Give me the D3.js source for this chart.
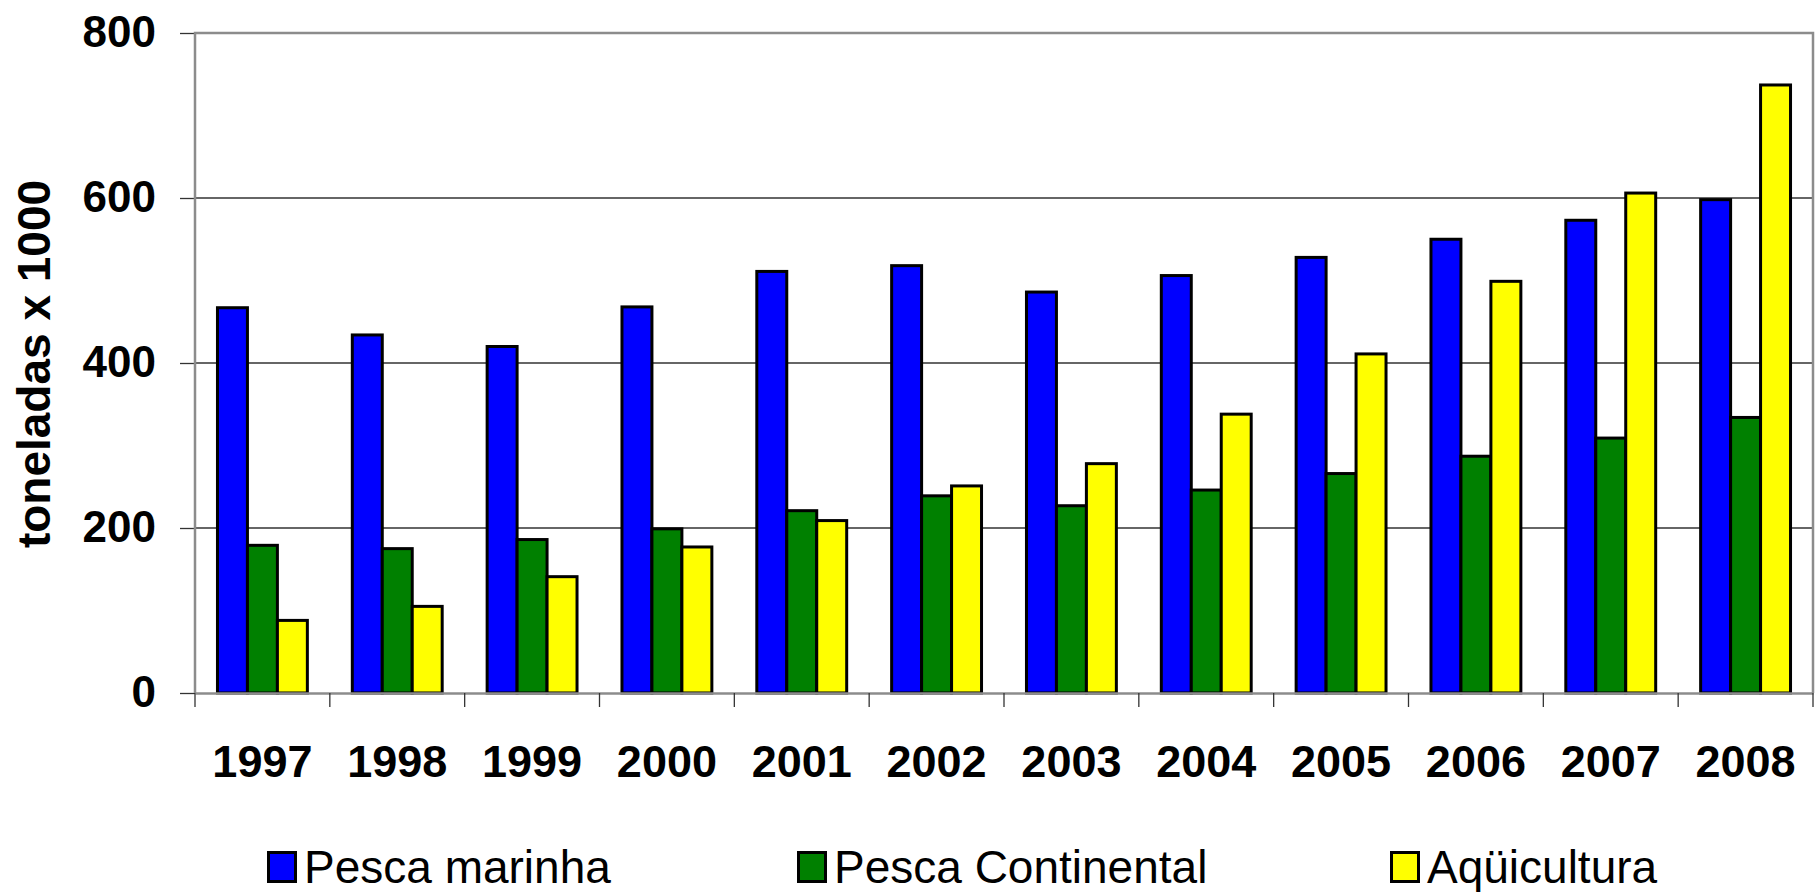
<!DOCTYPE html>
<html lang="pt">
<head>
    <meta charset="UTF-8">
    <title>Produção de pescado</title>
    <script src="https://d3js.org/d3.v7.min.js"></script>
    <style>
        body { margin: 0; background: #fff; }
        svg { display: block; font-family: "Liberation Sans", Arial, sans-serif; }
    </style>
</head>
<body>
    <script>
        // dados (toneladas x 1000)
        const anos = ['1997', '1998', '1999', '2000', '2001', '2002', '2003', '2004', '2005', '2006', '2007', '2008'];
        const pescaMarinha = [467, 434, 420, 468, 511, 518, 486, 506, 528, 550, 573, 598];
        const pescaContinental = [179, 175, 186, 199, 221, 239, 227, 246, 266, 287, 309, 334];
        const aquicultura = [88, 105, 141, 177, 209, 251, 278, 338, 411, 499, 606, 737];
        const series = ['Pesca marinha', 'Pesca Continental', 'Aqüicultura'];
        const cores = ['#0000ff', '#008000', '#ffff00'];
        const ticksY = [0, 200, 400, 600, 800];

        const valores = [pescaMarinha, pescaContinental, aquicultura];

        const W = 1818, H = 892;
        const mEsq = 195, mDir = 1813, mTopo = 33, mBase = 693;

        const svg = d3.select('body').append('svg').attr('width', W).attr('height', H);

        const x0 = d3.scaleBand().domain(anos).range([mEsq, mDir]);
        const x1 = d3.scaleBand().domain(series).range([0, x0.bandwidth()]).paddingInner(0).paddingOuter(0.75);
        const y = d3.scaleLinear().domain([0, 800]).range([mBase, mTopo]);

        // linhas de grade
        svg.append('g')
            .selectAll('line')
            .data(ticksY.filter(d => d > 0 && d < 800))
            .join('line')
            .attr('x1', mEsq).attr('x2', mDir)
            .attr('y1', d => y(d)).attr('y2', d => y(d))
            .attr('stroke', '#333').attr('stroke-width', 1.3);

        // eixo y
        const eixoY = svg.append('g')
            .attr('transform', `translate(${mEsq},0)`)
            .call(d3.axisLeft(y).tickValues(ticksY).tickSize(15).tickPadding(24));
        eixoY.select('.domain').remove();
        eixoY.selectAll('line').attr('stroke', '#333').attr('stroke-width', 1.3);
        eixoY.selectAll('text')
            .attr('font-size', 44).attr('font-weight', 'bold').attr('fill', '#000')
            .attr('font-family', '"Liberation Sans", Arial, sans-serif')
            .attr('dy', '0.3em');

        // barras
        const grupos = svg.append('g')
            .selectAll('g')
            .data(anos)
            .join('g')
            .attr('transform', d => `translate(${x0(d)},0)`);

        grupos.selectAll('rect')
            .data((d, i) => series.map((s, j) => ({ serie: s, valor: valores[j][i], cor: cores[j] })))
            .join('rect')
            .attr('x', d => x1(d.serie))
            .attr('width', x1.bandwidth())
            .attr('y', d => y(d.valor))
            .attr('height', d => y(0) - y(d.valor))
            .attr('fill', d => d.cor)
            .attr('stroke', '#000')
            .attr('stroke-width', 3);

        // moldura cinza (topo, direita, esquerda)
        svg.append('path')
            .attr('d', `M${mEsq},${mBase}V${mTopo}H${mDir}V${mBase}`)
            .attr('fill', 'none').attr('stroke', '#8c8c8c').attr('stroke-width', 2.5);

        // eixo x
        const eixoX = svg.append('g')
            .attr('transform', `translate(0,${mBase})`)
            .call(d3.axisBottom(x0).tickSize(0).tickPadding(52));
        eixoX.select('.domain').attr('stroke', '#8c8c8c').attr('stroke-width', 2.5);
        eixoX.selectAll('text')
            .attr('font-size', 45).attr('font-weight', 'bold').attr('fill', '#000')
            .attr('font-family', '"Liberation Sans", Arial, sans-serif');

        // marcas entre categorias
        const limites = anos.map(a => x0(a)).concat([mDir]);
        svg.append('g')
            .selectAll('line')
            .data(limites)
            .join('line')
            .attr('x1', d => d).attr('x2', d => d)
            .attr('y1', mBase).attr('y2', mBase + 14)
            .attr('stroke', '#333').attr('stroke-width', 1.3);

        // título do eixo y
        svg.append('text')
            .attr('transform', `translate(50,364) rotate(-90)`)
            .attr('text-anchor', 'middle')
            .attr('font-size', 46).attr('font-weight', 'bold')
            .text('toneladas x 1000');

        // legenda
        const legendaX = [267, 797, 1390];
        const legenda = svg.append('g')
            .selectAll('g')
            .data(series)
            .join('g')
            .attr('transform', (d, i) => `translate(${legendaX[i]},851)`);

        legenda.append('rect')
            .attr('x', 1.5).attr('y', 1.5)
            .attr('width', 27).attr('height', 29)
            .attr('fill', (d, i) => cores[i])
            .attr('stroke', '#000').attr('stroke-width', 3);

        legenda.append('text')
            .attr('x', 37).attr('y', 32)
            .attr('font-size', 46)
            .text(d => d);
    </script>
</body>
</html>
